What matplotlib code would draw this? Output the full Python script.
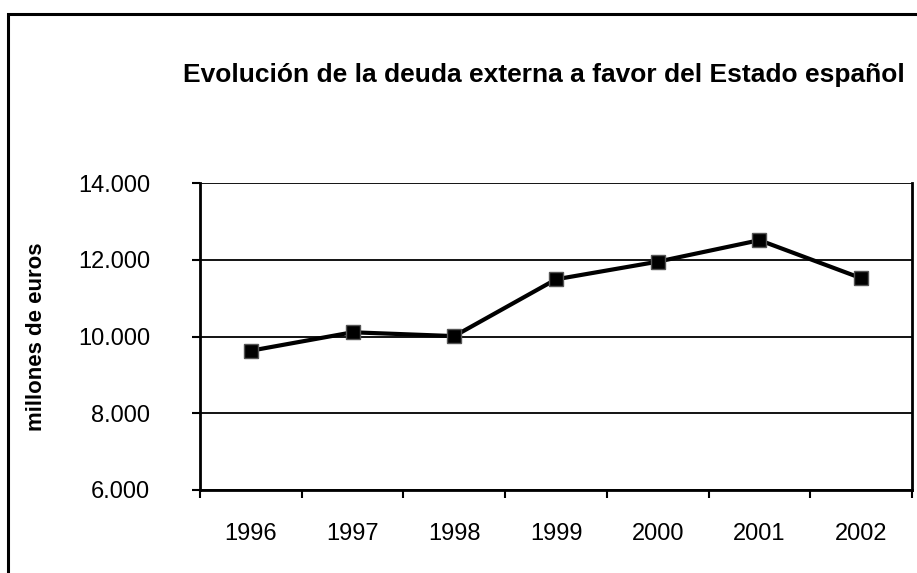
import matplotlib
matplotlib.use("Agg")
import matplotlib.pyplot as plt
from matplotlib.patches import Rectangle
from matplotlib.ticker import FuncFormatter, FixedLocator

years = ["1996", "1997", "1998", "1999", "2000", "2001", "2002"]
deuda = [9630, 10110, 10010, 11490, 11950, 12510, 11520]

plt.rcParams['font.family'] = ['Liberation Sans', 'DejaVu Sans']

W, H = 917, 573
fig = plt.figure(figsize=(W / 100, H / 100), dpi=100)

# outer chart border (cut off at right and bottom)
fig.patches.append(Rectangle((8 / W, -0.1), 1.2, 1 - 14 / H + 0.1, transform=fig.transFigure,
                             fill=False, edgecolor='black', linewidth=2.2))

ax = fig.add_axes([200 / W, 1 - 490 / H, 712 / W, 307 / H])
x = list(range(len(years)))
ax.plot(x, deuda, color='black', linewidth=3, marker='s', markersize=10.5,
        markerfacecolor='black', markeredgecolor='#555555', markeredgewidth=1, zorder=3)

ax.set_xlim(-0.5, len(years) - 0.5)
ax.set_ylim(6000, 14000)
ax.set_yticks([6000, 8000, 10000, 12000, 14000])
ax.yaxis.set_major_formatter(FuncFormatter(lambda v, p: f"{int(v):,}".replace(",", ".")))
ax.grid(axis='y', color='black', linewidth=1.3)

# categories between tick marks
ax.set_xticks(x)
ax.set_xticklabels(years)
ax.tick_params(axis='x', which='major', length=0, pad=24, labelsize=17)
ax.xaxis.set_minor_locator(FixedLocator([i - 0.5 for i in range(len(years) + 1)]))
ax.tick_params(axis='x', which='minor', length=6, width=1.5, direction='out')
ax.tick_params(axis='y', length=6, width=1.5, direction='out', labelsize=17, pad=30)

for side in ['left', 'bottom', 'right']:
    ax.spines[side].set_linewidth(2)
ax.spines['top'].set_visible(False)

ax.set_ylabel('millones de euros', fontsize=16, fontweight='bold', labelpad=22)
fig.text(544 / W, 1 - 75 / H, 'Evolución de la deuda externa a favor del Estado español',
         ha='center', va='center', fontsize=19, fontweight='bold')

fig.savefig('out.png', dpi=100)
